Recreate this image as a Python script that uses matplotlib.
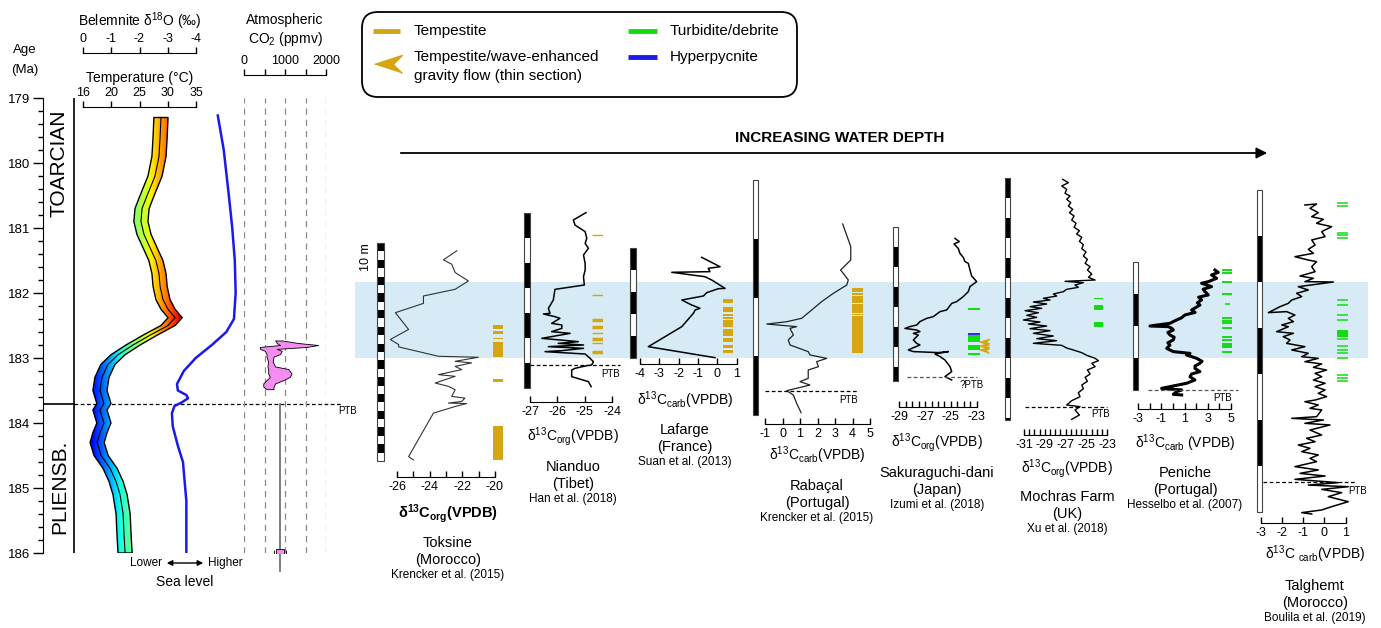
import numpy as np
import matplotlib
matplotlib.use('Agg')
import matplotlib.pyplot as plt
from matplotlib.patches import Rectangle, Polygon, FancyBboxPatch

plt.rcParams['font.family'] = ['Liberation Sans', 'DejaVu Sans']
plt.rcParams['mathtext.fontset'] = 'custom'
plt.rcParams['mathtext.rm'] = 'Liberation Sans'
plt.rcParams['mathtext.it'] = 'Liberation Sans:italic'
plt.rcParams['mathtext.bf'] = 'Liberation Sans:bold'
plt.rcParams['axes.unicode_minus'] = False

GOLD = '#d6a512'
GREEN = '#14dc14'
BLUE = '#1a1aee'

# ---------------- data: age panel ----------------
ptb_age = 183.7
belem_age = [179.3, 179.6, 179.9, 180.2, 180.5, 180.7, 180.9, 181.1, 181.3, 181.5, 181.7, 181.9,
             182.1, 182.25, 182.38, 182.5, 182.65, 182.8, 182.95, 183.1, 183.3, 183.5, 183.7,
             183.8, 184.0, 184.15, 184.3, 184.5, 184.7, 184.9, 185.1, 185.4, 185.7, 186.0]
belem_d18o = [-2.76, -2.73, -2.69, -2.55, -2.27, -2.09, -2.05, -2.16, -2.37, -2.58, -2.69, -2.73,
              -2.83, -3.01, -3.26, -3.01, -2.37, -1.77, -1.24, -0.88, -0.67, -0.60, -0.74,
              -0.60, -0.74, -0.60, -0.50, -0.64, -0.96, -1.17, -1.31, -1.42, -1.45, -1.49]
temp_labels = ['16', '20', '25', '30', '35']

sea_age = [179.27, 179.8, 180.5, 181.0, 181.5, 182.0, 182.4, 182.6, 182.8, 183.0, 183.2, 183.4,
           183.5, 183.57, 183.62, 183.68, 183.74, 183.85, 184.05, 184.35, 184.6, 184.9, 185.2,
           185.6, 186.0]
sea_level = [0.68, 0.75, 0.81, 0.85, 0.88, 0.89, 0.87, 0.78, 0.61, 0.42, 0.28, 0.20,
             0.21, 0.31, 0.33, 0.26, 0.17, 0.14, 0.15, 0.21, 0.27, 0.29, 0.31, 0.31, 0.31]

co2_age = [182.73, 182.77, 182.80, 182.83, 182.86, 182.89, 182.94, 182.98, 183.06, 183.13,
           183.17, 183.24, 183.29, 183.34, 183.39, 183.44, 183.48]
co2_low = [760, 800, 880, 390, 390, 510, 550, 550, 590, 570, 590, 590, 630, 550, 470, 470, 550]
co2_high = [920, 1330, 1810, 1530, 800, 920, 880, 720, 700, 760, 1080, 1160, 1120, 960, 760, 720, 720]
co2_pt_age, co2_pt, co2_pt_err = 186.0, 880, 150
co2_range_age = [ptb_age, 186.27]

# ---------------- data: sections (height in m, delta13C) ----------------
tok_h = [25.07, 23.99, 23.47, 22.48, 21.47, 20.48, 19.68, 18.80, 17.69, 15.69, 14.49, 13.89, 13.61,
         12.49, 12.37, 11.89, 11.70, 11.29, 10.90, 10.30, 10.10, 9.30, 8.90, 8.50, 7.70, 7.50, 7.10,
         6.91, 6.85, 6.50, 5.71, 0.52, 0.12]
tok_c = [-22.34, -23.16, -22.65, -22.44, -21.63, -22.44, -24.38, -24.38, -26.10, -25.29, -26.41,
         -25.90, -25.90, -23.46, -21.02, -22.44, -21.43, -22.44, -22.04, -23.46, -22.44, -23.66,
         -22.85, -22.44, -22.65, -21.84, -22.04, -22.85, -21.74, -22.44, -23.77, -25.29, -24.99]
tok_temp = [(15.7, 16.2), (15.1, 15.45), (14.5, 14.7), (12.46, 14.25), (9.46, 9.82), (0.12, 4.19)]

nia_h = [35.07, 33.6, 32.6, 31.27, 29.93, 28.93, 27.93, 26.6, 24.93, 23.6, 22.27, 20.6, 19.73,
         17.6, 15.93, 14.93, 14.8, 14.27, 13.93, 12.93, 12.6, 11.93, 11.27, 10.93, 9.93, 9.27,
         8.93, 8.6, 8.27, 7.93, 7.47, 7.27, 6.8, 5.93, 5.27, 4.6, 4.47, 3.93, 3.6, 2.27, 1.27, 0.27]
nia_c = [-24.96, -25.42, -25.36, -24.99, -24.93, -24.99, -24.87, -25.05, -24.99, -24.99, -25.05,
         -25.02, -26.09, -26.15, -26.33, -26.27, -26.51, -26.09, -25.91, -26.21, -25.84, -25.84,
         -26.21, -25.54, -26.57, -25.24, -25.97, -25.05, -26.33, -25.05, -25.84, -26.45, -24.99,
         -24.81, -24.69, -24.75, -24.93, -25.36, -25.48, -25.48, -24.87, -24.77]
nia_temp = [13.6, 12.2, 9.8, 7.2]
nia_temp_thin = [30.6, 18.6, 11.0, 9.0]
nia_ptb = 4.6

laf_h = [9.15, 8.30, 8.15, 7.85, 7.79, 7.39, 7.09, 6.33, 6.30, 5.94, 5.64, 5.27, 4.82, 4.52,
         4.36, 4.06, 2.85, 1.03, 0.03]
laf_c = [-0.81, 0.14, -0.47, -0.38, -2.36, -0.64, -0.29, 0.40, 0.05, -0.55, -0.72, -1.84, -1.33,
         -0.90, -1.15, -1.24, -1.84, -3.57, -0.12]
laf_temp = [(5.0, 5.36), (4.18, 4.64), (3.86, 4.0), (3.59, 3.73), (2.82, 3.45), (2.0, 2.64),
            (1.45, 1.82), (0.91, 1.18), (0.45, 0.73)]

rab_h = [16.26, 14.33, 13.19, 12.34, 11.49, 11.06, 10.35, 9.65, 8.94, 8.23, 7.94, 7.74, 7.52,
         7.38, 6.81, 6.38, 5.96, 5.39, 5.11, 4.82, 4.54, 4.11, 3.83, 3.12, 2.84, 2.55, 2.07,
         1.70, 0.99, 0.20]
rab_c = [3.44, 3.90, 3.90, 3.32, 3.76, 3.67, 2.90, 2.24, 1.67, 1.10, 0.24, -0.90, 0.81, 0.43,
         0.62, 0.33, 0.43, 1.47, 1.57, 2.53, 1.95, 2.05, 1.47, 1.47, 1.0, 1.57, 0.24, 0.62,
         0.81, 1.06]
rab_temp = [(5.28, 8.41), (8.49, 8.62), (8.7, 9.47), (9.55, 10.17), (10.25, 10.37), (10.45, 10.81)]
rab_ptb = 2.07

sak_h = [7.13, 6.97, 6.85, 6.63, 6.38, 6.18, 5.97, 5.88, 5.55, 5.25, 4.97, 4.72, 4.47, 4.22,
         3.97, 3.88, 3.55, 3.47, 3.22, 3.13, 2.97, 2.8, 2.72, 2.63, 2.55, 2.47, 2.38, 2.3, 2.05,
         1.88, 1.8, 1.63, 1.55, 1.47, 1.42, 1.47, 1.35, 1.22, 1.05, 0.72, 0.47, 0.22, 0.05]
sak_c = [-24.68, -24.35, -24.76, -24.43, -24.30, -24.04, -23.91, -23.65, -23.52, -23.39, -23.0,
         -23.52, -23.65, -24.04, -24.55, -24.94, -25.33, -25.84, -26.36, -26.88, -27.40, -27.65,
         -28.17, -28.56, -27.65, -27.40, -27.91, -27.53, -27.91, -27.65, -27.40, -28.04, -28.30,
         -27.91, -25.98, -25.20, -26.23, -25.84, -25.46, -25.07, -24.94, -25.46, -24.94]
sak_turb = [(1.93, 2.3), (1.55, 1.82), (3.53, 3.63), (1.3, 1.4)]
sak_hyper = [2.36]
sak_thin = [1.97, 1.75, 1.55]
sak_ptb = 0.22

moc_h = [60.17, 59.33, 58.5, 57.67, 56.67, 56.0, 55.17, 54.33, 53.5, 52.67, 51.83, 51.0, 50.0,
         49.17, 48.17, 47.33, 46.5, 45.67, 44.67, 43.83, 42.83, 42.0, 41.0, 40.17, 39.17, 38.33,
         37.5, 36.5, 35.67, 35.0, 34.67, 34.33, 33.75, 33.17, 32.67, 32.08, 31.5, 31.0, 30.42,
         30.0, 29.5, 29.0, 28.33, 27.92, 27.33, 26.83, 26.17, 25.67, 25.0, 24.5, 24.0, 23.5,
         22.83, 22.33, 21.67, 21.0, 20.33, 19.83, 19.17, 18.67, 18.0, 17.5, 16.83, 16.17, 15.42,
         14.83, 14.17, 13.33, 12.5, 11.5, 10.67, 9.67, 8.75, 7.83, 6.83, 5.83, 4.83, 3.75, 3.33,
         2.5, 1.25, 0.17]
moc_c = [-27.28, -26.74, -27.38, -26.90, -27.06, -26.58, -26.90, -26.51, -26.74, -26.32, -26.64,
         -26.19, -26.42, -26.0, -26.19, -25.68, -25.94, -25.45, -25.68, -25.30, -25.45, -25.04,
         -25.30, -24.91, -25.13, -24.65, -24.91, -24.49, -24.81, -24.17, -27.06, -25.30, -26.10,
         -25.78, -26.90, -27.22, -28.18, -27.86, -29.14, -28.5, -30.10, -28.82, -30.42, -29.30,
         -30.90, -29.62, -30.74, -29.78, -31.06, -29.46, -30.58, -28.82, -30.42, -28.5, -30.10,
         -28.18, -29.78, -27.86, -30.10, -27.38, -26.90, -26.26, -25.45, -24.97, -24.17, -23.85,
         -24.49, -24.17, -24.91, -24.65, -25.13, -24.91, -25.45, -25.30, -25.78, -25.62, -26.42,
         -26.90, -25.62, -26.10, -25.68, -26.42]
moc_turb = [(30.25, 30.5), (27.5, 28.75), (23.25, 24.5), (22.4, 22.6), (19.65, 19.85)]
moc_ptb = 3.33

pen_h = [7.5, 7.35, 7.19, 6.98, 6.77, 6.67, 6.46, 6.3, 6.15, 5.94, 5.8, 5.63, 5.45, 5.31, 5.0,
         4.85, 4.69, 4.5, 4.38, 4.17, 4.0, 3.96, 3.85, 3.75, 3.6, 3.44, 3.3, 3.13, 2.95, 2.81,
         2.6, 2.4, 2.29, 2.19, 1.98, 1.8, 1.67, 1.5, 1.35, 1.15, 1.0, 0.83, 0.63, 0.42, 0.21,
         0.10, 0.0, -0.10, -0.27, -0.31]
pen_c = [3.61, 3.9, 3.32, 3.76, 3.04, 2.46, 3.32, 2.6, 2.75, 3.04, 2.2, 2.46, 2.1, 2.32, 1.60,
         1.9, 1.03, 0.7, 0.31, -0.27, -1.99, -0.41, -0.1, 0.02, -0.45, -0.27, 0.1, 0.02, -0.45,
         -0.27, -0.55, 0.02, 1.46, 1.17, 2.03, 2.5, 2.32, 1.9, 1.89, 2.32, 1.6, 1.46, 1.89, 1.17,
         -0.27, -0.99, 0.74, 0.31, 0.02, 0.74]
pen_turb_lines = [7.5, 7.29, 6.77, 5.98, 4.48, 4.31, 4.17, 3.89, 3.33, 3.13, 2.40]
pen_turb_short = [5.35]
pen_turb = [(2.63, 2.94)]
pen_ptb = 0.0

tal_h = [33.37, 33.48, 33.01, 32.54, 32.10, 31.81, 31.38, 31.01, 30.47, 29.93, 29.57, 29.02,
         28.55, 28.12, 27.75, 27.39, 27.21, 26.67, 26.12, 25.65, 25.40, 25.04, 25.0, 24.49, 24.13,
         23.77, 23.41, 23.04, 22.68, 22.32, 21.67, 21.78, 21.41, 21.05, 20.69, 20.33, 20.14,
         19.60, 19.42, 19.06, 18.70, 18.33, 17.97, 17.61, 17.25, 16.88, 16.70, 16.34, 16.09,
         15.72, 15.43, 15.07, 14.71, 14.35, 13.99, 13.62, 13.26, 12.90, 12.54, 12.17, 11.99,
         11.63, 11.27, 11.09, 10.36, 10.18, 10.0, 9.64, 9.46, 8.91, 8.37, 8.01, 7.64, 7.28, 6.92,
         6.56, 6.20, 5.83, 5.47, 4.93, 4.57, 4.20, 3.91, 3.55, 3.19, 2.93, 2.75, 2.46, 2.10,
         1.67, 1.12, 0.58, 0.22, -0.07, -0.22]
tal_c = [-0.92, -0.37, -0.68, -0.29, -0.60, -0.05, -0.37, 0.34, -0.13, 0.03, -0.60, -0.44,
         -0.76, -0.52, -1.39, -0.76, -0.37, -0.60, -0.44, -1.15, -0.52, -0.92, 0.42, -1.23, -0.76,
         -1.31, -1.07, -1.54, -1.70, -2.09, -2.64, -1.78, -1.39, -1.70, -1.46, -2.01, -1.70,
         -2.25, -1.46, -1.94, -1.62, -1.78, -0.92, -1.54, -0.76, -1.07, -0.29, -0.92, -0.13,
         -0.52, 0.10, -0.44, -0.13, -0.52, 0.03, -0.44, 0.03, -0.29, 0.10, -0.44, -0.92,
         -0.29, -0.68, -0.13, -0.37, -1.54, -0.05, -0.92, 0.26, -0.68, -0.13, -0.84, -0.44,
         -1.23, -0.68, -1.07, -0.29, -0.68, -0.37, -1.39, -0.29, -1.15, 0.03, -1.39, 0.65,
         -0.76, 1.12, -0.13, 0.81, 0.18, 1.12, 0.34, -0.13, -1.07, -0.60]
tal_turb_lines = [33.62, 33.26, 30.36, 30.11, 29.75, 23.04, 22.5, 21.41, 20.87, 18.77, 18.04,
                  17.61, 17.25, 16.7, 14.89, 14.6, 14.27]
tal_turb = [(19.05, 19.8)]
tal_ptb = 3.22

# ---------------- figure ----------------
W, H = 1381, 628
fig = plt.figure(figsize=(W / 100, H / 100), dpi=100)


def px_axes(x0, y0, x1, y1, z=1):
    ax = fig.add_axes([x0 / W, 1 - y1 / H, (x1 - x0) / W, (y1 - y0) / H], zorder=z)
    ax.patch.set_alpha(0)
    return ax


bg = px_axes(0, 0, W, H, z=0)
bg.set_xlim(0, W)
bg.set_ylim(H, 0)
bg.axis('off')

# T-OAE band
bg.add_patch(Rectangle((355, 282), 1013, 76, color='#d6ebf6', lw=0))

# legend box
bg.add_patch(FancyBboxPatch((362, 12), 435, 85, boxstyle='round,pad=0,rounding_size=16',
                            fill=False, ec='k', lw=1.3))
bg.plot([373, 400], [31, 31], color=GOLD, lw=3.5, solid_capstyle='butt')
bg.text(414, 31, 'Tempestite', fontsize=11, va='center')
bg.plot([388], [64], marker=[(-1, 0), (1, 0.65), (0.35, 0), (1, -0.65)], ms=20, color=GOLD, ls='none')
bg.text(414, 57, 'Tempestite/wave-enhanced', fontsize=11, va='center')
bg.text(414, 76, 'gravity flow (thin section)', fontsize=11, va='center')
bg.plot([628, 657], [31, 31], color=GREEN, lw=3.5, solid_capstyle='butt')
bg.text(670, 31, 'Turbidite/debrite', fontsize=11, va='center')
bg.plot([628, 657], [57, 57], color=BLUE, lw=3.5, solid_capstyle='butt')
bg.text(670, 57, 'Hyperpycnite', fontsize=11, va='center')

# water depth arrow
bg.text(840, 138, 'INCREASING WATER DEPTH', fontsize=11, fontweight='bold', ha='center', va='center')
bg.annotate('', xy=(1270, 153), xytext=(398, 153),
            arrowprops=dict(arrowstyle='-|>', color='k', lw=1.3, mutation_scale=16))

# left panel headers
bg.text(25, 50, 'Age', fontsize=9.5, ha='center', va='center')
bg.text(25, 70, '(Ma)', fontsize=9.5, ha='center', va='center')
bg.text(140, 21, r'Belemnite δ$^{\rm 18}$O (‰)', fontsize=10, ha='center', va='center')
bg.text(140, 78, 'Temperature (°C)', fontsize=10, ha='center', va='center')
bg.text(285, 20, 'Atmospheric', fontsize=10, ha='center', va='center')
bg.text(285, 39, r'CO$_{\rm 2}$ (ppmv)', fontsize=10, ha='center', va='center')
bg.text(59, 163, 'TOARCIAN', fontsize=15, rotation=90, ha='center', va='center')
bg.text(60, 487, 'PLIENSB.', fontsize=15, rotation=90, ha='center', va='center')
bg.text(162, 563, 'Lower', fontsize=8.5, ha='right', va='center')
bg.text(208, 563, 'Higher', fontsize=8.5, ha='left', va='center')
bg.annotate('', xy=(206, 563), xytext=(164, 563),
            arrowprops=dict(arrowstyle='<|-|>', color='k', lw=1, mutation_scale=8))
bg.text(185, 582, 'Sea level', fontsize=10, ha='center', va='center')
bg.text(348, 411, 'PTB', fontsize=7, ha='center', va='center')
bg.text(366, 257, '10 m', fontsize=9, rotation=90, ha='center', va='center')

# age axis + stage column
ax_age = px_axes(43, 98, 360, 553, z=2)
ax_age.set_xlim(0, 1)
ax_age.set_ylim(186, 179)
for s in ('top', 'right', 'bottom'):
    ax_age.spines[s].set_visible(False)
ax_age.set_xticks([])
ax_age.set_yticks(range(179, 187))
ax_age.set_yticks(np.arange(179, 186.01, 0.2), minor=True)
ax_age.tick_params(axis='y', which='major', length=7, width=1, labelsize=9.5, pad=2)
ax_age.tick_params(axis='y', which='minor', length=3.5, width=1)
col_x = (74 - 43) / 317
ax_age.axvline(col_x, color='k', lw=1.2)
ax_age.plot([0, col_x], [ptb_age, ptb_age], color='k', lw=1.2)
ax_age.plot([col_x, 0.94], [ptb_age, ptb_age], color='k', lw=0.9, ls=(0, (3, 2)))

# belemnite d18O / temperature band
ax_d = px_axes(83, 98, 196, 553, z=3)
ax_d.axis('off')
d = np.array(belem_d18o)
a = np.array(belem_age)
hw = 0.25
verts = np.vstack([np.column_stack([d - hw, a]), np.column_stack([d + hw, a])[::-1]])
band = Polygon(verts, closed=True, facecolor='none', edgecolor='k', lw=1.0, zorder=3)
ax_d.add_patch(band)
grad = np.linspace(0, -4, 400).reshape(1, -1)
im = ax_d.imshow(grad, extent=[0, -4, 186, 179], cmap='jet_r', vmin=-3.8, vmax=0.2,
                 aspect='auto', zorder=2)
im.set_clip_path(band)
ax_d.plot(d, a, color='k', lw=0.8, zorder=4)
ax_d.set_xlim(0, -4)
ax_d.set_ylim(186, 179)

ax_b = px_axes(83, 53, 196, 98, z=3)
ax_b.set_xlim(0, -4)
for s in ('bottom', 'left', 'right'):
    ax_b.spines[s].set_visible(False)
ax_b.set_yticks([])
ax_b.xaxis.tick_top()
ax_b.set_xticks([0, -1, -2, -3, -4])
ax_b.set_xticklabels(['0', '-1', '-2', '-3', '-4'])
ax_b.tick_params(axis='x', direction='out', length=4, width=1, labelsize=9, pad=2)

ax_t = px_axes(83, 107, 196, 150, z=3)
ax_t.set_xlim(0, -4)
for s in ('bottom', 'left', 'right'):
    ax_t.spines[s].set_visible(False)
ax_t.set_yticks([])
ax_t.xaxis.tick_top()
ax_t.set_xticks([0, -1, -2, -3, -4])
ax_t.set_xticklabels(temp_labels)
ax_t.tick_params(axis='x', direction='out', length=4, width=1, labelsize=9, pad=2)

# sea level
ax_s = px_axes(160, 98, 245, 553, z=3)
ax_s.axis('off')
ax_s.plot(sea_level, sea_age, color=BLUE, lw=1.8)
ax_s.set_xlim(0, 1)
ax_s.set_ylim(186, 179)

# CO2
ax_c = px_axes(244, 98, 326, 553, z=3)
ax_c.set_xlim(0, 2000)
ax_c.set_ylim(186, 179)
for s in ('bottom', 'left', 'right'):
    ax_c.spines[s].set_visible(False)
ax_c.spines['top'].set_position(('outward', 23 * 0.72))
ax_c.set_yticks([])
ax_c.xaxis.tick_top()
ax_c.set_xticks([0, 500, 1000, 1500, 2000])
ax_c.set_xticklabels(['0', '', '1000', '', '2000'])
ax_c.tick_params(axis='x', direction='out', length=4, width=1, labelsize=9, pad=2)
for g in [0, 500, 1000, 1500, 2000]:
    ax_c.axvline(g, color='#8a8a8a', lw=0.9, ls=(0, (5, 4)))
ax_c.fill_betweenx(co2_age, co2_low, co2_high, facecolor='#f58cf2', edgecolor='k', lw=0.6, zorder=3)
ax_c.plot([co2_pt, co2_pt], co2_range_age, color='#666666', lw=1.2, clip_on=False)
ax_c.errorbar([co2_pt], [co2_pt_age], xerr=[co2_pt_err], fmt='s', ms=6, mfc='#f58cf2',
              mec='k', mew=0.6, ecolor='k', elinewidth=0.8, capsize=2, zorder=4)

# ---------------- sections ----------------


def column(x0, x1, y_top, y_bot, hmax, seg, top_black):
    ax = px_axes(x0, y_top, x1, y_bot, z=3)
    ax.set_xlim(0, 1)
    ax.set_ylim(0, hmax)
    ax.axis('off')
    for i, t in enumerate(np.arange(hmax, 0, -seg)):
        b = max(t - seg, 0)
        black = (i % 2 == 0) == top_black
        ax.bar(0.5, t - b, bottom=b, width=1, color='k' if black else 'w', lw=0)
    ax.add_patch(Rectangle((0, 0), 1, hmax, fill=False, ec='#444444', lw=0.8, clip_on=False))


def curve_axes(x0, x1, y_top, y_bot, hmax, vlim, spine_y, ticks, labelled):
    ax = px_axes(x0, y_top, x1, y_bot, z=4)
    ax.set_xlim(*vlim)
    ax.set_ylim(0, hmax)
    for s in ('top', 'right', 'left'):
        ax.spines[s].set_visible(False)
    ax.spines['bottom'].set_position(('outward', (spine_y - y_bot) * 0.72))
    ax.set_yticks([])
    ax.set_xticks(ticks)
    ax.set_xticklabels([f'{t:g}' if any(abs(t - l) < 1e-6 for l in labelled) else '' for t in ticks])
    ax.tick_params(axis='x', direction='in', length=4.5, width=1, labelsize=9, pad=3)
    return ax


def event_axes(x0, x1, y_top, y_bot, hmax):
    ax = px_axes(x0, y_top, x1, y_bot, z=4)
    ax.set_xlim(0, 1)
    ax.set_ylim(0, hmax)
    ax.axis('off')
    return ax


def blocks(ax, intervals, color):
    for b, t in intervals:
        ax.fill_between([0, 1], b, t, color=color, lw=0, clip_on=False)


def ptb(ax, v0, v1, h, color='k'):
    ax.plot([v0, v1], [h, h], color=color, lw=0.9, ls=(0, (3, 2)), clip_on=False)


def labels(x, y_axis, y_title, axis_label, title, place, author, bold=False):
    bg.text(x, y_axis, axis_label, fontsize=10.5 if bold else 10, ha='center', va='center',
            fontweight='bold' if bold else 'normal')
    bg.text(x, y_title, title, fontsize=10.5, ha='center', va='center')
    bg.text(x, y_title + 17, place, fontsize=10.5, ha='center', va='center')
    bg.text(x, y_title + 32, author, fontsize=8.5, ha='center', va='center')


org = r'δ$^{\rm 13}$C$_{\rm org}$(VPDB)'
carb = r'δ$^{\rm 13}$C$_{\rm carb}$(VPDB)'

# Toksine
column(377, 384, 243, 461, 26, 1, True)
ax = curve_axes(397, 495, 243, 461, 26, (-26, -20), 477, np.arange(-26, -19.9, 1), [-26, -24, -22, -20])
ax.plot(tok_c, tok_h, color='#333333', lw=0.8, clip_on=False)
blocks(event_axes(493, 503, 243, 461, 26), tok_temp, GOLD)
labels(448, 514, 543, r'δ$^{\bf 13}$C$_{\bf org}$(VPDB)', 'Toksine', '(Morocco)',
       'Krencker et al. (2015)', bold=True)

# Nianduo
column(524, 530, 213, 388, 35, 5, True)
ax = curve_axes(530, 612.3, 213, 388, 35, (-27, -24), 401.7, [-27, -26, -25, -24], [-27, -26, -25, -24])
ax.plot(nia_c, nia_h, color='k', lw=1.1, clip_on=False)
ptb(ax, -27, -23.72, nia_ptb)
ev = event_axes(592, 603, 213, 388, 35)
ev.hlines(nia_temp, 0, 1, color=GOLD, lw=2.5)
ev.hlines(nia_temp_thin, 0, 1, color=GOLD, lw=1)
bg.text(611, 374, 'PTB', fontsize=7, ha='center', va='center')
labels(573, 437, 467, org, 'Nianduo', '(Tibet)', 'Han et al. (2018)')

# Lafarge
column(630, 636, 248, 358, 10, 2, True)
ax = curve_axes(640, 736.7, 248, 358, 10, (-4, 1), 364, np.arange(-4, 1.1, 1), np.arange(-4, 1.1, 1))
ax.plot(laf_c, laf_h, color='k', lw=1.1, clip_on=False)
blocks(event_axes(723, 733, 248, 358, 10), laf_temp, GOLD)
labels(685, 400, 430, carb, 'Lafarge', '(France)', 'Suan et al. (2013)')

# Rabacal
column(753, 758, 180, 415, 20, 5, False)
ax = curve_axes(765, 870, 180, 415, 20, (-1, 5), 424, np.arange(-1, 5.1, 1), np.arange(-1, 5.1, 1))
ax.plot(rab_c, rab_h, color='#222222', lw=0.9, clip_on=False)
ptb(ax, -1, 4.31, rab_ptb)
blocks(event_axes(852, 863, 180, 415, 20), rab_temp, GOLD)
bg.text(849, 400, 'PTB', fontsize=7, ha='center', va='center')
labels(817, 455, 486, carb, 'Rabaçal', '(Portugal)', 'Krencker et al. (2015)')

# Sakuraguchi-dani
column(893, 898, 227, 381, 7.7, 1, False)
ax = curve_axes(899.3, 976.7, 227, 381, 7.7, (-29, -23), 407, np.arange(-29, -22.9, 0.5), [-29, -27, -25, -23])
ax.plot(sak_c, sak_h, color='k', lw=1.1, clip_on=False)
ptb(ax, -28.4, -23.0, sak_ptb, color='#555555')
ev = event_axes(968, 980, 227, 381, 7.7)
blocks(ev, sak_turb, GREEN)
ev.hlines(sak_hyper, 0, 1, color=BLUE, lw=1.3)
ev.plot([1.35] * len(sak_thin), sak_thin, ls='none', marker=[(-1, 0), (1, 0.65), (0.35, 0), (1, -0.65)],
        ms=7, color=GOLD, clip_on=False)
bg.text(972, 385, '?PTB', fontsize=7, ha='center', va='center')
labels(937, 443, 473, org, 'Sakuraguchi-dani', '(Japan)', 'Izumi et al. (2018)')

# Mochras Farm
column(1005, 1010, 178, 420, 60.5, 5, True)
ax = curve_axes(1024, 1107.3, 178, 420, 60.5, (-31, -23), 435, np.arange(-31, -22.9, 0.5),
                [-31, -29, -27, -25, -23])
ax.plot(moc_c, moc_h, color='k', lw=1.0, clip_on=False)
ptb(ax, -30.9, -23.0, moc_ptb)
blocks(event_axes(1094, 1103, 178, 420, 60.5), moc_turb, GREEN)
bg.text(1101, 414, 'PTB', fontsize=7, ha='center', va='center')
labels(1067, 469, 497, org, 'Mochras Farm', '(UK)', 'Xu et al. (2018)')

# Peniche
column(1133, 1138, 262, 390, 8, 2, False)
ax = curve_axes(1138.3, 1231, 262, 390, 8, (-3, 5), 409, np.arange(-3, 5.1, 1), [-3, -1, 1, 3, 5])
ax.plot(pen_c, pen_h, color='k', lw=2.2, clip_on=False)
ptb(ax, -2.16, 5.6, pen_ptb, color='#555555')
ev = event_axes(1222, 1232, 262, 390, 8)
ev.hlines(pen_turb_lines, 0, 1, color=GREEN, lw=1.4)
ev.hlines(pen_turb_short, 0.3, 0.8, color=GREEN, lw=1.2)
blocks(ev, pen_turb, GREEN)
bg.text(1223, 398, 'PTB', fontsize=7, ha='center', va='center')
labels(1185, 443, 473, r'δ$^{\rm 13}$C$_{\rm carb}$ (VPDB)', 'Peniche', '(Portugal)', 'Hesselbo et al. (2007)')

# Talghemt
column(1257, 1262, 190, 512, 35, 5, False)
ax = curve_axes(1260.7, 1345.7, 190, 512, 35, (-3, 1), 523, [-3, -2, -1, 0, 1], [-3, -2, -1, 0, 1])
ax.plot(tal_c, tal_h, color='k', lw=1.1, clip_on=False)
ptb(ax, -2.89, 1.44, tal_ptb)
ev = event_axes(1337, 1348, 190, 512, 35)
ev.hlines(tal_turb_lines, 0, 1, color=GREEN, lw=1.1)
blocks(ev, tal_turb, GREEN)
bg.text(1358, 491, 'PTB', fontsize=7, ha='center', va='center')
labels(1315, 554, 586, r'δ$^{\rm 13}$C $_{\rm carb}$(VPDB)', 'Talghemt', '(Morocco)', 'Boulila et al. (2019)')

fig.savefig('out.png', dpi=100)
